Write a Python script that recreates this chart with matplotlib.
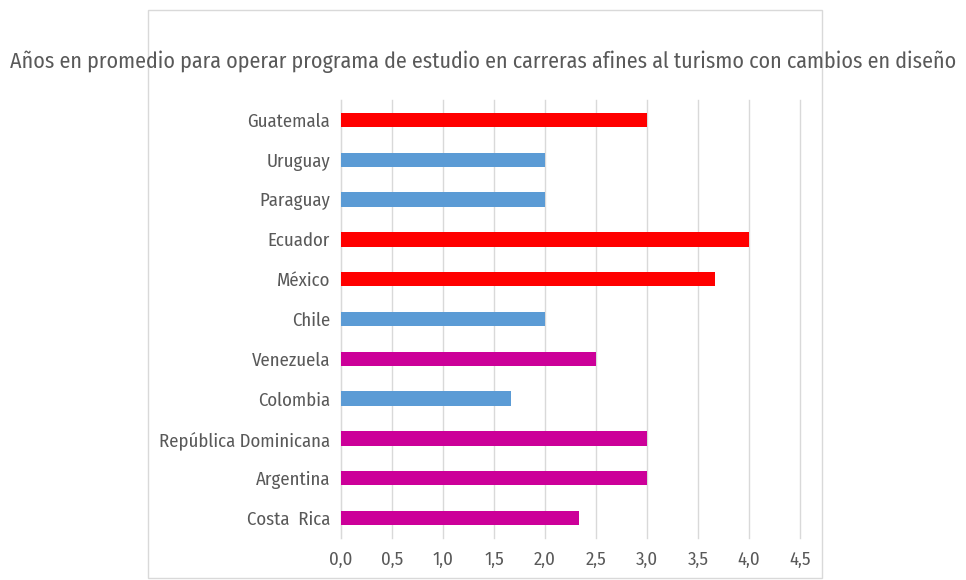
import matplotlib.pyplot as plt
import matplotlib.patches as patches

plt.rcParams['font.family'] = ['Fira Sans Condensed', 'Carlito', 'DejaVu Sans']
plt.rcParams['font.weight'] = 'normal'

paises = ['Costa  Rica', 'Argentina', 'República Dominicana', 'Colombia', 'Venezuela',
          'Chile', 'México', 'Ecuador', 'Paraguay', 'Uruguay', 'Guatemala']
anios = [2.33, 3.0, 3.0, 1.67, 2.5, 2.0, 3.67, 4.0, 2.0, 2.0, 3.0]
grupo = ['m', 'm', 'm', 'b', 'm', 'b', 'r', 'r', 'b', 'b', 'r']
colores = {'r': '#FF0000', 'b': '#5B9BD5', 'm': '#CC0099'}
ticks = [0, 0.5, 1.0, 1.5, 2.0, 2.5, 3.0, 3.5, 4.0, 4.5]
titulo = 'Años en promedio para operar programa de estudio en carreras afines al turismo con cambios en diseño'

fig = plt.figure(figsize=(9.66, 5.80), dpi=100)
fig.patches.append(patches.Rectangle((148 / 966, 2 / 580), 674 / 966, 568 / 580,
                                     transform=fig.transFigure, fill=False,
                                     edgecolor='#d9d9d9', linewidth=1))
ax = fig.add_axes([341 / 966, 42 / 580, 459 / 966, 438 / 580])

ax.barh(range(len(paises)), anios, height=0.36,
        color=[colores[g] for g in grupo], zorder=3)
ax.set_ylim(-0.5, len(paises) - 0.5)
ax.set_xlim(0, 4.5)
ax.set_xticks(ticks)
ax.set_xticklabels([f'{t:.1f}'.replace('.', ',') for t in ticks])
ax.set_yticks(range(len(paises)))
ax.set_yticklabels(paises)
ax.tick_params(length=0, labelcolor='#595959', labelsize=14)
ax.tick_params(axis='x', pad=9)
ax.tick_params(axis='y', pad=8)
ax.grid(axis='x', color='#d9d9d9', linewidth=1, zorder=0)
for gl in ax.get_xgridlines():
    gl.set_clip_on(False)
for s in ['top', 'right', 'bottom']:
    ax.spines[s].set_visible(False)
ax.spines['left'].set_color('#d9d9d9')

t = fig.text(0.5, 1 - 62 / 580, titulo, ha='center', va='center',
             fontsize=16, color='#595959')

# tamaños de letra según el ancho disponible
r = fig.canvas.get_renderer()
t.set_fontsize(16 * 946 / t.get_window_extent(r).width)
fig.canvas.draw()
lab = max(ax.get_yticklabels(), key=lambda l: l.get_window_extent(r).width)
ax.tick_params(labelsize=14 * 171 / lab.get_window_extent(r).width)

fig.savefig('out.png', dpi=100)
